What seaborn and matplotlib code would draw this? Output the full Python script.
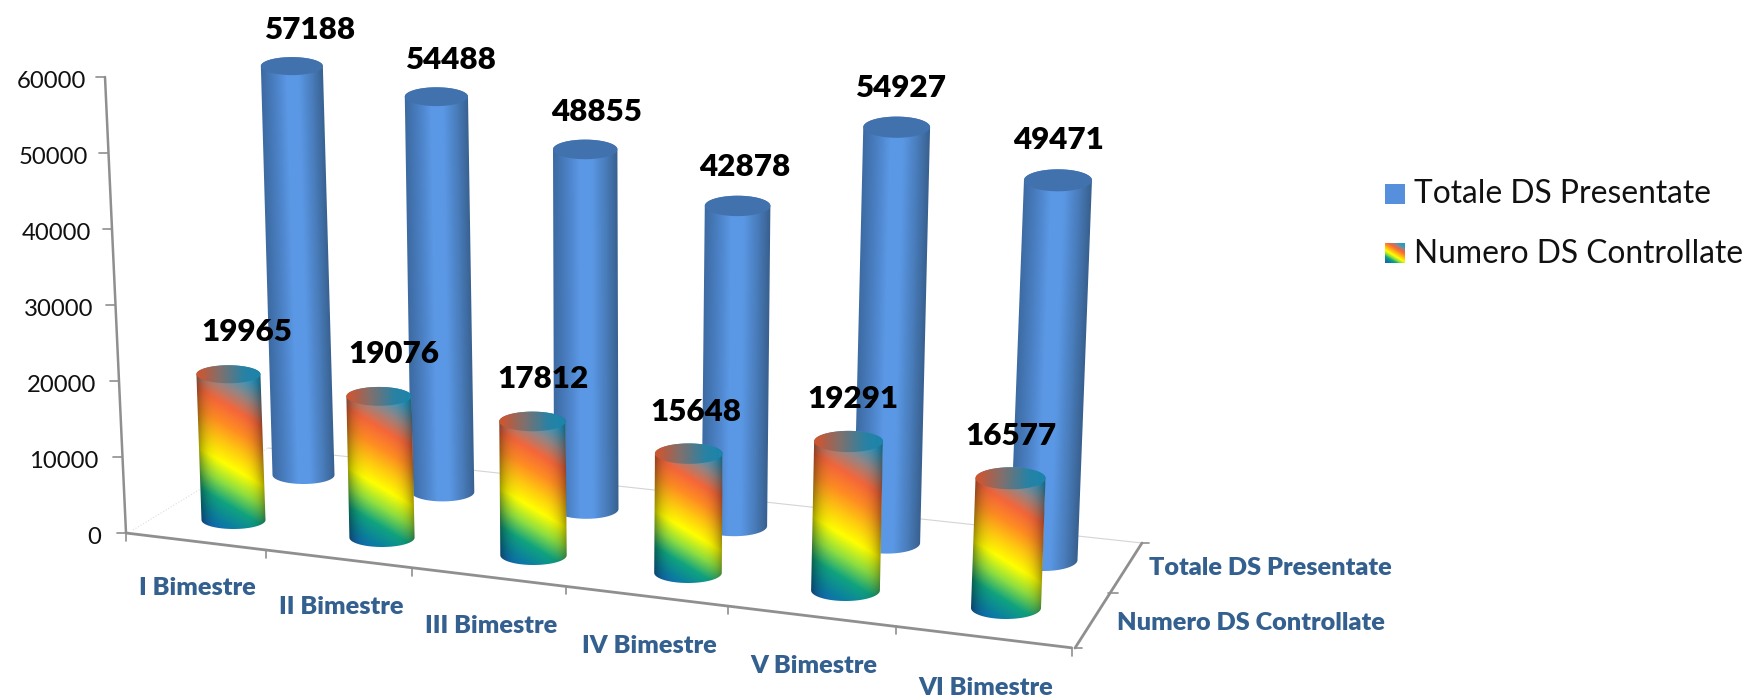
import numpy as np
import pandas as pd
import matplotlib
matplotlib.use("Agg")
import matplotlib.pyplot as plt
from matplotlib.path import Path
from matplotlib.transforms import Affine2D
import seaborn as sns

# values
categories = ["I Bimestre", "II Bimestre", "III Bimestre", "IV Bimestre", "V Bimestre", "VI Bimestre"]
totale_ds = [57188, 54488, 48855, 42878, 54927, 49471]
numero_ds = [19965, 19076, 17812, 15648, 19291, 16577]
series_names = ["Totale DS Presentate", "Numero DS Controllate"]
y_ticks = [0, 10000, 20000, 30000, 40000, 50000, 60000]

sns.set_theme(style="white")
plt.rcParams["font.family"] = ["Lato", "DejaVu Sans"]

BLUE = "#5690dc"
CAT_BLUE = "#33608f"
AXIS_GRAY = "#8f8f8f"

blue_cmap = sns.blend_palette(["#3d6ba3", "#4a7fc2", "#5a97e4", "#5a97e4", "#4a7ebd", "#38608f"], as_cmap=True)
rainbow_cmap = sns.blend_palette(
    ["#1a9fd0", "#2f9bc4", "#948686", "#f5663a", "#ff8c22", "#ffc810",
     "#ffff00", "#8fdf40", "#10a37f", "#0b7fa0", "#1b5fbf"], as_cmap=True)


# the chart is a perspective view: helpers that turn (category, series, value) into pixels
def floor_x(i, j):
    # j=0 front row, j=1 back row
    return 233.5 + 70 * j + (147 - 10 * j) * i + (1.5 + 0.7 * j) * i ** 2


def floor_y(i, j):
    return 520 - 45 * j + (17.6 - 0.6 * j) * i


def value_px(i, j, v):
    return v / 1000 * (7.30 - 0.15 * j + 0.105 * i)


def lean(x):
    return (x - 620) * 9e-5


def cyl_width(i, j):
    return 64 + 1.2 * i - 2 * j


def cyl_ry(i):
    return 9 + 0.4 * i


def axis_tick_x(k):
    return 126 + 136 * k + 3.6 * k ** 2


def axis_tick_y(k):
    return 533 + (axis_tick_x(k) - 126) * 0.1214


def outline(xt, yt, xb, yb, w, ry):
    a = np.linspace(np.pi, 0, 40)
    top = np.c_[xt + w / 2 * np.cos(a), yt - ry * np.sin(a)]
    bot = np.c_[xb - w / 2 * np.cos(a), yb + ry * np.sin(a)]
    return np.vstack([top, bot, top[:1]])


def cap(xt, yt, w, ry):
    a = np.linspace(0, 2 * np.pi, 80)
    return np.c_[xt + w / 2 * np.cos(a), yt + ry * np.sin(a)]


def draw_cylinder(ax, bar, i, j, v, z):
    xb, yb = floor_x(i, j), floor_y(i, j)
    h = value_px(i, j, v)
    k = lean(xb)
    xt, yt = xb + k * h, yb - h
    w, ry = cyl_width(i, j), cyl_ry(i)

    # the seaborn bar becomes the cylinder core, sheared to follow the perspective
    bar.set_x(xb - w / 2 + 1)
    bar.set_width(w - 2)
    bar.set_transform(Affine2D(np.array([[1, -k, k * yb], [0, 1, 0], [0, 0, 1.0]])) + ax.transData)
    bar.set_zorder(z)

    x0, x1 = min(xt, xb) - w / 2 - 2, max(xt, xb) + w / 2 + 2
    y0, y1 = yt - ry - 2, yb + ry + 2
    X, Y = np.meshgrid(np.arange(x0, x1, 1.0), np.arange(y0, y1, 1.0))
    xc = xb + k * (yb - Y)
    u = np.clip((X - xc) / (w / 2), -1, 1)

    if j == 1:
        rgb = blue_cmap((u + 1) / 2)[..., :3]
    else:
        g = ((Y - (yt - ry)) + 0.6 * (xc + w / 2 - X)) / (yb + ry - (yt - ry) + 0.6 * w)
        shade = 1 - 0.38 * np.abs(u) ** 4
        rgb = rainbow_cmap(np.clip(g, 0, 1))[..., :3] * shade[..., None]
    ext = (x0, x0 + X.shape[1], y0 + X.shape[0], y0)
    im = ax.imshow(rgb, extent=ext, origin="upper", aspect="auto", interpolation="bilinear", zorder=z + 0.1)
    im.set_clip_path(Path(outline(xt, yt, xb, yb, w, ry)), ax.transData)

    # top face
    if j == 1:
        ax.fill(*cap(xt, yt, w, ry).T, color="#4272ad", lw=0, zorder=z + 0.2)
    else:
        g_cap = 0.17 - 0.14 * (X - xc) / (w / 2)
        top_rgb = rainbow_cmap(np.clip(g_cap, 0, 1))[..., :3] * 0.84
        im2 = ax.imshow(top_rgb, extent=ext, origin="upper", aspect="auto", interpolation="bilinear", zorder=z + 0.2)
        im2.set_clip_path(Path(cap(xt, yt, w, ry)), ax.transData)
    return xt, yt


fig = plt.figure(figsize=(17.53, 6.98), dpi=100)
ax = fig.add_axes([0, 0, 1, 1])

positions = np.arange(len(categories))
rows = []
for j, (name, vals) in enumerate([(series_names[1], numero_ds), (series_names[0], totale_ds)]):
    for i, v in zip(positions, vals):
        rows.append({"series": name, "j": j, "i": i, "value": v,
                     "sx": floor_x(i, j),
                     "top": floor_y(i, j) - value_px(i, j, v),
                     "drop": value_px(i, j, v)})
df = pd.DataFrame(rows)

# back row first, front row over it
for j, z, col in [(1, 3, BLUE), (0, 5, "#ffc810")]:
    sub = df[df["j"] == j]
    n_before = len(ax.patches)
    sns.barplot(data=sub, x="sx", y="drop", native_scale=True, errorbar=None, color=col,
                saturation=1, bottom=sub["top"].values, ax=ax, legend=False)
    bars = ax.patches[n_before:]
    ax.set_autoscale_on(False)
    ax.set_xlim(0, 1753)
    ax.set_ylim(698, 0)
    for bar, row in zip(bars, sub.itertuples()):
        xt, yt = draw_cylinder(ax, bar, row.i, row.j, row.value, z)
        off_y = 36 + 0.9 * row.i if j == 1 else 42
        ax.text(xt + 18 - 3.5 * row.i, yt - off_y, str(row.value), ha="center", va="center",
                fontsize=22.6, fontweight=800, color="black", zorder=10)

ax.set_xlabel("")
ax.set_ylabel("")
ax.set_xticks([])
ax.set_yticks([])
sns.despine(ax=ax, left=True, bottom=True)

# value axis
ax.plot([126, 105], [533, 77], color=AXIS_GRAY, lw=1.8, zorder=2)
for t in y_ticks:
    ty = 533 - t * 456 / 60000
    tx = 126 - 21 * t / 60000
    ax.plot([tx - 9, tx], [ty, ty], color=AXIS_GRAY, lw=1.2, zorder=2)
    ax.text(tx - 25 + 6 * t / 60000, ty + 5, str(t), ha="right", va="center", fontsize=17.2, color="#111111", zorder=10)

# category axis
ax.plot([axis_tick_x(0), axis_tick_x(6)], [axis_tick_y(0), axis_tick_y(6)], color=AXIS_GRAY, lw=2.0, zorder=2)
for k in range(7):
    ax.plot([axis_tick_x(k)] * 2, [axis_tick_y(k), axis_tick_y(k) + 8], color=AXIS_GRAY, lw=1.2, zorder=2)
for k, lab in enumerate(categories):
    mid = (axis_tick_x(k) + axis_tick_x(k + 1)) / 2
    ax.text(mid + 2, (axis_tick_y(k) + axis_tick_y(k + 1)) / 2 + 47 + 0.8 * k, lab, ha="center", va="center",
            fontsize=18.2, fontweight=800, color=CAT_BLUE, zorder=10)

# depth axis and the faint floor edges
ax.plot([1075, 1142], [648, 543], color=AXIS_GRAY, lw=2.0, zorder=2)
ax.plot([1142, 1149], [543, 543], color=AXIS_GRAY, lw=1.2, zorder=2)
ax.plot([1108, 1118], [593, 593], color=AXIS_GRAY, lw=1.2, zorder=2)
ax.plot([1075, 1082], [648, 648], color=AXIS_GRAY, lw=1.2, zorder=2)
ax.plot([268, 1142], [448, 543], color="#d4d4d4", lw=0.8, zorder=1)
ax.plot([133, 268], [530, 448], color="#dddddd", lw=0.8, ls=":", zorder=1)

ax.text(1149, 568, series_names[0], ha="left", va="center", fontsize=18.2, fontweight=800, color=CAT_BLUE, zorder=10)
ax.text(1117, 623, series_names[1], ha="left", va="center", fontsize=18.2, fontweight=800, color=CAT_BLUE, zorder=10)

# legend
ax.fill([1385, 1405, 1405, 1385], [184, 184, 204, 204], color=BLUE, lw=0, zorder=10)
gy, gx = np.meshgrid(np.linspace(0, 1, 20), np.linspace(1, 0, 20), indexing="ij")
sw = rainbow_cmap(np.clip((gy * 20 + 0.6 * 20 * gx) / 32, 0, 1))[..., :3]
ax.imshow(sw, extent=(1385, 1405, 263, 243), origin="upper", aspect="auto", zorder=10)
ax.text(1414, 194, series_names[0], ha="left", va="center", fontsize=22.9, color="#111111", zorder=10)
ax.text(1414, 254, series_names[1], ha="left", va="center", fontsize=22.9, color="#111111", zorder=10)

ax.set_xlim(0, 1753)
ax.set_ylim(698, 0)
fig.savefig("out.png", dpi=100)
